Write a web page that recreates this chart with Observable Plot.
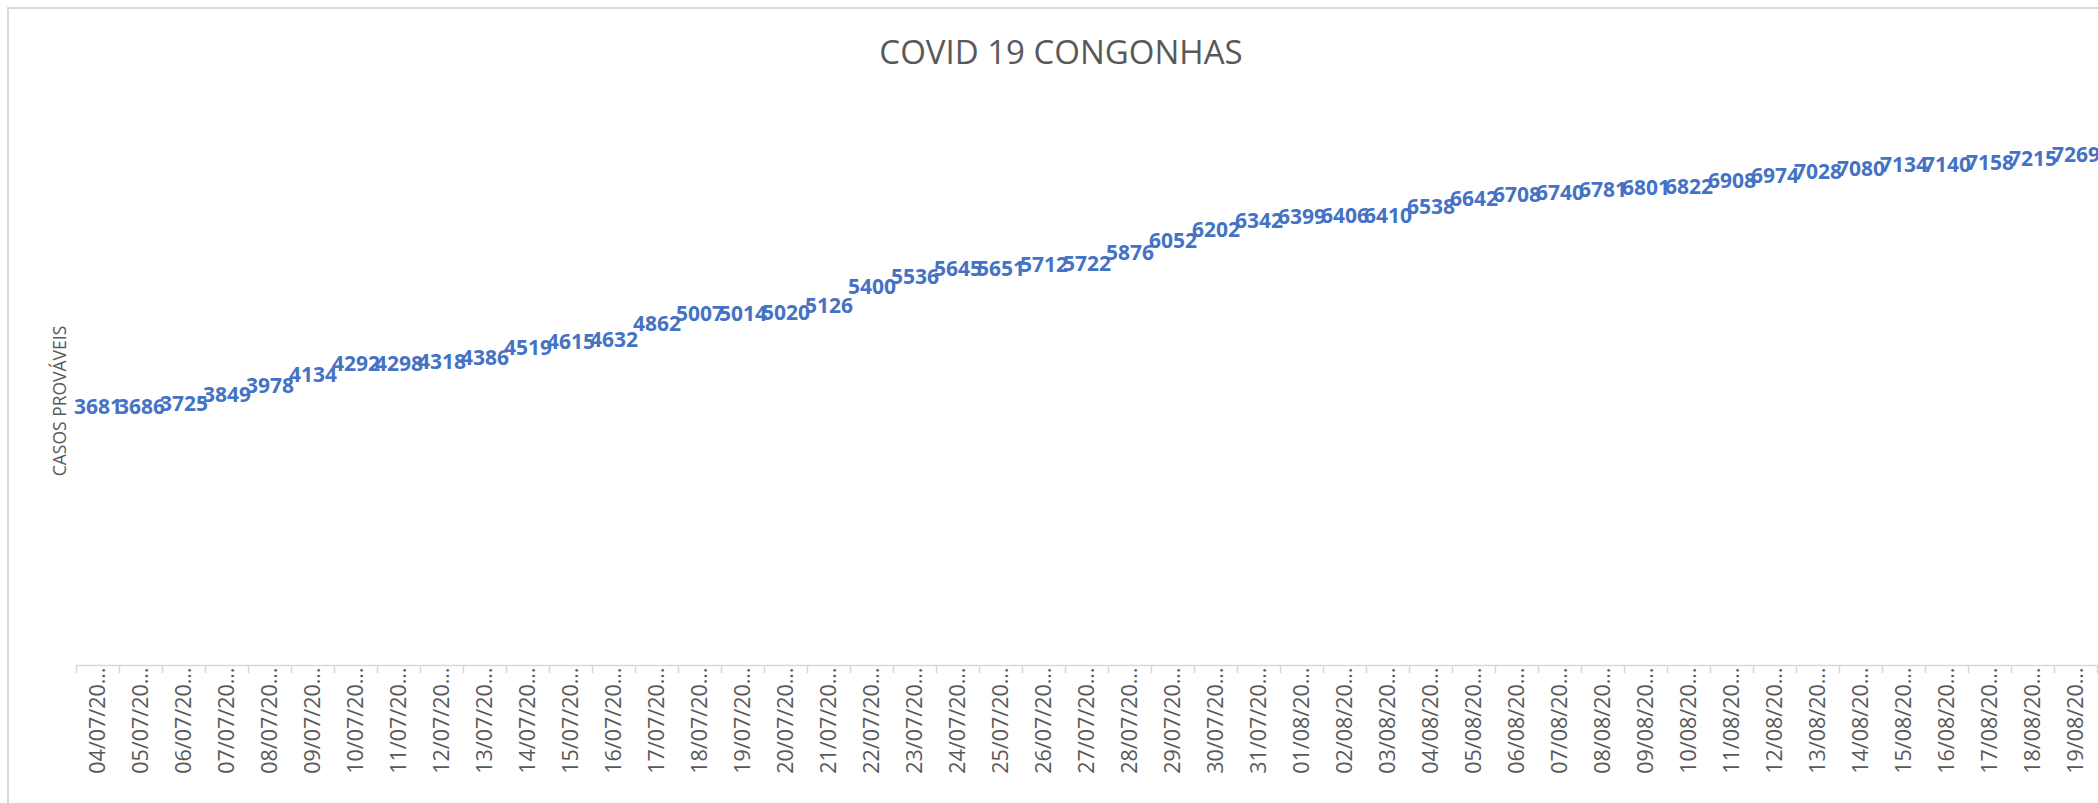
<!DOCTYPE html>
<html>
<head>
<meta charset="utf-8">
<script src="https://cdn.jsdelivr.net/npm/d3@7"></script>
<script src="https://cdn.jsdelivr.net/npm/@observablehq/plot@0.6"></script>
<style>
  html, body { margin: 0; padding: 0; background: #fff; }
  #chart { position: relative; width: 2098px; height: 803px; overflow: hidden; background: #fff; }
  #border { position: absolute; left: 7px; top: 7px; width: 2200px; height: 900px; border: 2px solid #d9d9d9; box-sizing: border-box; pointer-events: none; }
  #chart svg { position: absolute; left: 0; top: 0; }
</style>
</head>
<body>
<div id="chart"><div id="border"></div></div>
<script>
const title = "COVID 19 CONGONHAS";
const yTitle = "CASOS PROVÁVEIS";
const dates = [
  "04/07/2020","05/07/2020","06/07/2020","07/07/2020","08/07/2020","09/07/2020","10/07/2020",
  "11/07/2020","12/07/2020","13/07/2020","14/07/2020","15/07/2020","16/07/2020","17/07/2020",
  "18/07/2020","19/07/2020","20/07/2020","21/07/2020","22/07/2020","23/07/2020","24/07/2020",
  "25/07/2020","26/07/2020","27/07/2020","28/07/2020","29/07/2020","30/07/2020","31/07/2020",
  "01/08/2020","02/08/2020","03/08/2020","04/08/2020","05/08/2020","06/08/2020","07/08/2020",
  "08/08/2020","09/08/2020","10/08/2020","11/08/2020","12/08/2020","13/08/2020","14/08/2020",
  "15/08/2020","16/08/2020","17/08/2020","18/08/2020","19/08/2020"
];
const cases = [
  3681, 3686, 3725, 3849, 3978, 4134, 4292,
  4298, 4318, 4386, 4519, 4615, 4632, 4862,
  5007, 5014, 5020, 5126, 5400, 5536, 5645,
  5651, 5712, 5722, 5876, 6052, 6202, 6342,
  6399, 6406, 6410, 6538, 6642, 6708, 6740,
  6781, 6801, 6822, 6908, 6974, 7028, 7080,
  7134, 7140, 7158, 7215, 7269
];
const yDomain = [0, 8000];

const data = dates.map((d, i) => ({ i, date: d, value: cases[i] }));
const truncate = s => s.slice(0, 8) + "…";

const plot = Plot.plot({
  width: 2098,
  height: 803,
  marginLeft: 76,
  marginRight: 1,
  marginTop: 104,
  marginBottom: 138,
  style: { background: "transparent", fontFamily: "'Open Sans', sans-serif", overflow: "hidden" },
  x: { type: "linear", domain: [0, dates.length] },
  y: { domain: yDomain, axis: null },
  marks: [
    Plot.ruleY([0], { stroke: "#d9d9d9", strokeWidth: 1.5 }),
    Plot.axisX(d3.range(0, dates.length + 1), {
      tickSize: 8, tickFormat: () => "", stroke: "#d9d9d9", strokeWidth: 1.5
    }),
    Plot.axisX(data.map(d => d.i + 0.5), {
      tickSize: 0, tickRotate: -90, tickPadding: 2,
      tickFormat: v => truncate(dates[Math.round(v - 0.5)]),
      fill: "#595959", fontSize: 21.5
    }),
    Plot.text(data, {
      x: d => d.i + 0.5, y: "value", text: d => String(d.value),
      fill: "#4472C4", fontSize: 21, fontWeight: "bold", lineAnchor: "middle"
    }),
    Plot.text([title], {
      frameAnchor: "top", lineAnchor: "middle", textAnchor: "middle",
      dy: -51, dx: -26, fontSize: 33, fill: "#595959"
    }),
    Plot.text([yTitle], {
      frameAnchor: "left", lineAnchor: "middle", textAnchor: "middle",
      rotate: -90, dx: -16, dy: 16, fontSize: 17.5, fill: "#595959"
    })
  ]
});
document.getElementById("chart").appendChild(plot);
</script>
</body>
</html>
